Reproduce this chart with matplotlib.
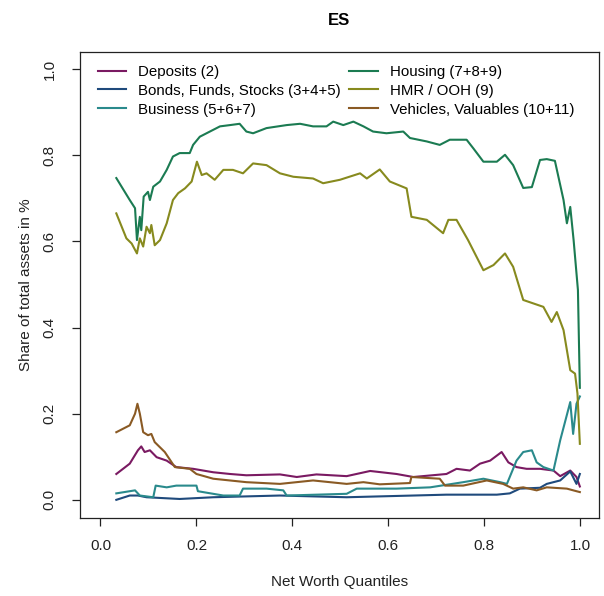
import matplotlib
matplotlib.use("Agg")
import matplotlib.pyplot as plt

plt.rcParams['font.family'] = ['Liberation Sans', 'DejaVu Sans']

# net worth quantile (x) and share of total assets (y) per asset class
deposits_q = [0.033, 0.061, 0.078, 0.085, 0.092, 0.103, 0.117, 0.138, 0.158, 0.193,
              0.235, 0.270, 0.304, 0.374, 0.409, 0.450, 0.513, 0.562, 0.617, 0.652,
              0.721, 0.742, 0.770, 0.791, 0.812, 0.836, 0.850, 0.867, 0.888, 0.916,
              0.944, 0.958, 0.979, 0.992, 0.999]
deposits = [0.060, 0.084, 0.115, 0.124, 0.111, 0.115, 0.099, 0.091, 0.076, 0.072,
            0.064, 0.060, 0.057, 0.059, 0.053, 0.059, 0.055, 0.067, 0.060, 0.053,
            0.060, 0.072, 0.068, 0.084, 0.091, 0.111, 0.087, 0.076, 0.072, 0.072,
            0.068, 0.055, 0.068, 0.053, 0.031]

bonds_q = [0.033, 0.061, 0.078, 0.096, 0.165, 0.235, 0.374, 0.443, 0.513, 0.582,
           0.652, 0.721, 0.826, 0.853, 0.874, 0.916, 0.930, 0.958, 0.979, 0.992, 0.999]
bonds = [0.000, 0.010, 0.010, 0.006, 0.002, 0.006, 0.010, 0.008, 0.006, 0.008,
         0.010, 0.012, 0.012, 0.015, 0.026, 0.028, 0.037, 0.045, 0.066, 0.037, 0.060]

business_q = [0.033, 0.072, 0.082, 0.110, 0.115, 0.138, 0.158, 0.200, 0.203, 0.256,
              0.290, 0.297, 0.346, 0.381, 0.388, 0.513, 0.534, 0.617, 0.687, 0.756,
              0.798, 0.833, 0.847, 0.867, 0.881, 0.899, 0.909, 0.923, 0.944, 0.958,
              0.979, 0.985, 0.992, 0.999]
business = [0.015, 0.022, 0.010, 0.006, 0.033, 0.029, 0.033, 0.033, 0.020, 0.010,
            0.010, 0.026, 0.026, 0.022, 0.010, 0.014, 0.026, 0.026, 0.029, 0.041,
            0.049, 0.041, 0.037, 0.091, 0.111, 0.115, 0.087, 0.076, 0.068, 0.138,
            0.227, 0.153, 0.223, 0.240]

housing_q = [0.033, 0.061, 0.072, 0.076, 0.082, 0.085, 0.090, 0.099, 0.103, 0.110,
             0.124, 0.138, 0.151, 0.165, 0.186, 0.193, 0.207, 0.228, 0.249, 0.270,
             0.290, 0.304, 0.318, 0.346, 0.388, 0.416, 0.443, 0.471, 0.485, 0.506,
             0.527, 0.548, 0.568, 0.596, 0.631, 0.645, 0.680, 0.707, 0.728, 0.763,
             0.777, 0.798, 0.826, 0.843, 0.860, 0.881, 0.899, 0.916, 0.930, 0.947,
             0.965, 0.972, 0.979, 0.986, 0.995, 0.999]
housing = [0.747, 0.696, 0.677, 0.603, 0.657, 0.626, 0.704, 0.715, 0.696, 0.727,
           0.739, 0.766, 0.797, 0.805, 0.805, 0.824, 0.843, 0.855, 0.867, 0.870,
           0.873, 0.855, 0.851, 0.863, 0.870, 0.873, 0.867, 0.867, 0.878, 0.870,
           0.878, 0.867, 0.855, 0.851, 0.855, 0.840, 0.832, 0.824, 0.836, 0.836,
           0.816, 0.785, 0.785, 0.801, 0.777, 0.724, 0.726, 0.789, 0.791, 0.787,
           0.696, 0.642, 0.680, 0.603, 0.487, 0.260]

hmr_q = [0.033, 0.054, 0.065, 0.076, 0.082, 0.089, 0.096, 0.103, 0.106, 0.113,
         0.124, 0.138, 0.151, 0.162, 0.176, 0.190, 0.201, 0.211, 0.221, 0.238,
         0.256, 0.276, 0.297, 0.318, 0.346, 0.374, 0.402, 0.443, 0.464, 0.499,
         0.541, 0.555, 0.582, 0.603, 0.638, 0.648, 0.680, 0.714, 0.725, 0.742,
         0.766, 0.798, 0.819, 0.843, 0.860, 0.881, 0.902, 0.923, 0.940, 0.951,
         0.965, 0.979, 0.989, 0.994, 0.999]
hmr = [0.665, 0.607, 0.595, 0.572, 0.607, 0.588, 0.634, 0.619, 0.638, 0.591,
       0.603, 0.642, 0.696, 0.712, 0.723, 0.739, 0.785, 0.754, 0.758, 0.743,
       0.766, 0.766, 0.758, 0.781, 0.777, 0.758, 0.750, 0.746, 0.735, 0.743,
       0.758, 0.746, 0.767, 0.739, 0.723, 0.657, 0.650, 0.619, 0.650, 0.650,
       0.603, 0.533, 0.545, 0.572, 0.541, 0.464, 0.456, 0.448, 0.413, 0.436,
       0.394, 0.301, 0.293, 0.247, 0.130]

vehicles_q = [0.033, 0.061, 0.072, 0.077, 0.082, 0.089, 0.099, 0.106, 0.113, 0.134,
              0.155, 0.186, 0.200, 0.235, 0.304, 0.374, 0.443, 0.513, 0.548, 0.582,
              0.645, 0.648, 0.707, 0.718, 0.756, 0.805, 0.839, 0.860, 0.881, 0.909,
              0.930, 0.972, 0.992, 0.999]
vehicles = [0.157, 0.173, 0.200, 0.223, 0.200, 0.157, 0.150, 0.153, 0.134, 0.111,
            0.076, 0.072, 0.060, 0.049, 0.041, 0.037, 0.045, 0.037, 0.041, 0.036,
            0.039, 0.053, 0.049, 0.033, 0.033, 0.045, 0.037, 0.026, 0.029, 0.022,
            0.029, 0.026, 0.020, 0.018]

labels = ["Deposits (2)", "Bonds, Funds, Stocks (3+4+5)", "Business (5+6+7)",
          "Housing (7+8+9)", "HMR / OOH (9)", "Vehicles, Valuables (10+11)"]
colors = ["#7a1a62", "#1f4a7c", "#2a8a8c", "#1b7b52", "#878a1e", "#8a5a24"]

fig = plt.figure(figsize=(6.04, 5.96), dpi=100)
ax = fig.add_axes([0.133, 0.131, 0.858, 0.782])

series = [(deposits_q, deposits), (bonds_q, bonds), (business_q, business),
          (housing_q, housing), (hmr_q, hmr), (vehicles_q, vehicles)]
for (xs, ys), lab, col in zip(series, labels, colors):
    ax.plot(xs, ys, color=col, lw=1.5, label=lab)

ax.set_xlim(-0.042, 1.038)
ax.set_ylim(-0.042, 1.040)
ticks = [0.0, 0.2, 0.4, 0.6, 0.8, 1.0]
ax.set_xticks(ticks)
ax.set_yticks(ticks)
ax.set_xticklabels(["%.1f" % t for t in ticks])
ax.set_yticklabels(["%.1f" % t for t in ticks], rotation=90, va='center')
ax.tick_params(axis='both', direction='out', length=6, width=0.9,
               labelsize=11, colors='#222222')
ax.tick_params(axis='x', pad=9)
ax.tick_params(axis='y', pad=11)
for s in ax.spines.values():
    s.set_linewidth(0.9)
    s.set_color('#222222')

ax.set_title("ES", fontsize=12, fontweight='bold', pad=19)
ax.set_xlabel("Net Worth Quantiles", fontsize=11, labelpad=16, color='#222222')
ax.set_ylabel("Share of total assets in %", fontsize=11, labelpad=7, color='#222222')

ax.legend(ncol=2, frameon=False, loc='upper left', bbox_to_anchor=(0.034, 0.972),
          borderaxespad=0, borderpad=0, fontsize=10.8, handlelength=1.9,
          handletextpad=0.8, columnspacing=0.55, labelspacing=0.32)

fig.savefig("out.png", dpi=100)
